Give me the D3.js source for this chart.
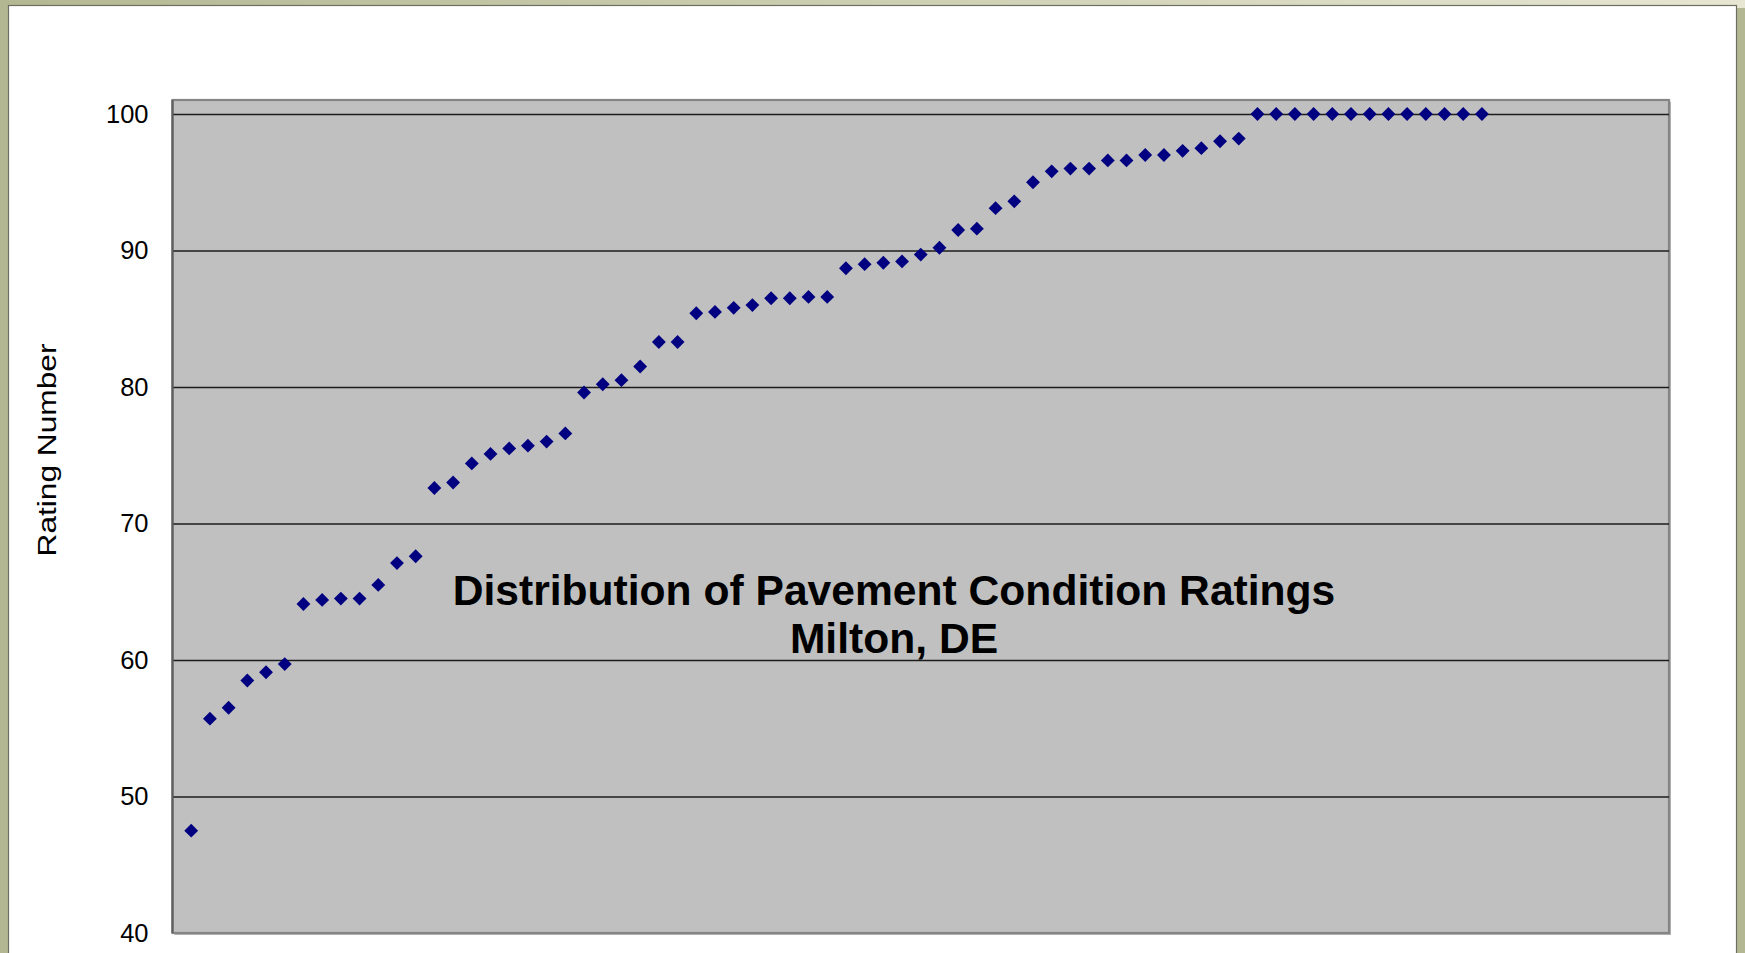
<!DOCTYPE html>
<html>
<head>
<meta charset="utf-8">
<script src="https://cdn.jsdelivr.net/npm/d3@7"></script>
<style>
html, body { margin: 0; padding: 0; overflow: hidden; background: #ffffff; }
svg { display: block; }
</style>
</head>
<body>
<script>
// ---------------- data ----------------
const ratings = [
  47.5, 55.7, 56.5, 58.5, 59.1, 59.7, 64.1, 64.4, 64.5, 64.5,
  65.5, 67.1, 67.6, 72.6, 73.0, 74.4, 75.1, 75.5, 75.7, 76.0,
  76.6, 79.6, 80.2, 80.5, 81.5, 83.3, 83.3, 85.4, 85.5, 85.8,
  86.0, 86.5, 86.5, 86.6, 86.6, 88.7, 89.0, 89.1, 89.2, 89.7,
  90.2, 91.5, 91.6, 93.1, 93.6, 95.0, 95.8, 96.0, 96.0, 96.6,
  96.6, 97.0, 97.0, 97.3, 97.5, 98.0, 98.2, 100, 100, 100,
  100, 100, 100, 100, 100, 100, 100, 100, 100, 100
];
const xDomain = [0, 80];
const yDomain = [40, 100];
const yTicks = [40, 50, 60, 70, 80, 90, 100];
const titleLines = ["Distribution of Pavement Condition Ratings", "Milton, DE"];
const yAxisTitle = "Rating Number";

// ---------------- layout ----------------
const W = 1745, H = 953;
const plot = { left: 172.5, right: 1669, top: 100, bottom: 933, yTopValuePx: 114 };

const svg = d3.select("body").append("svg")
  .attr("width", W).attr("height", H)
  .attr("font-family", "'Liberation Sans', Arial, sans-serif");

const defs = svg.append("defs");
const grad = defs.append("linearGradient").attr("id", "topgrad")
  .attr("x1", "0").attr("x2", "1").attr("y1", "0").attr("y2", "0");
grad.append("stop").attr("offset", "0").attr("stop-color", "#b4b892");
grad.append("stop").attr("offset", "1").attr("stop-color", "#e6e6d2");

// outer frame (olive) + top gradient strip
svg.append("rect").attr("x", 0).attr("y", 0).attr("width", W).attr("height", H).attr("fill", "#b3b892");
svg.append("rect").attr("x", 0).attr("y", 0).attr("width", W).attr("height", 8).attr("fill", "url(#topgrad)");
// white chart area
svg.append("rect").attr("x", 8.5).attr("y", 5.5).attr("width", 1728).attr("height", 980)
  .attr("fill", "#ffffff").attr("stroke", "#6e6e60").attr("stroke-width", 1.2);

// scales
const x = d3.scaleLinear().domain(xDomain).range([plot.left, plot.right]);
const y = d3.scaleLinear().domain(yDomain).range([plot.bottom, plot.yTopValuePx]);

// plot area shadow and background
svg.append("rect")
  .attr("x", plot.left + 2).attr("y", plot.top + 2)
  .attr("width", plot.right - plot.left).attr("height", plot.bottom - plot.top)
  .attr("fill", "#b4b4b4");
svg.append("rect")
  .attr("x", plot.left).attr("y", plot.top)
  .attr("width", plot.right - plot.left).attr("height", plot.bottom - plot.top)
  .attr("fill", "#c0c0c0").attr("stroke", "#858585").attr("stroke-width", 2.2);

// gridlines
const grid = svg.append("g")
  .attr("transform", `translate(${plot.left},0)`)
  .call(d3.axisLeft(y).tickValues(yTicks.filter(v => v > yDomain[0]))
    .tickSize(-(plot.right - plot.left)).tickFormat(""));
grid.select(".domain").remove();
grid.selectAll(".tick line").attr("stroke", "#1c1c1c").attr("stroke-width", 1.3);

// left axis line
svg.append("line")
  .attr("x1", plot.left).attr("x2", plot.left)
  .attr("y1", plot.top).attr("y2", plot.bottom)
  .attr("stroke", "#606060").attr("stroke-width", 2.2);

// y tick labels
const yAxis = svg.append("g")
  .attr("transform", `translate(${plot.left},0)`)
  .call(d3.axisLeft(y).tickValues(yTicks).tickSize(0).tickPadding(24).tickFormat(d3.format("d")));
yAxis.select(".domain").remove();
yAxis.selectAll("text")
  .attr("font-family", "'Liberation Sans', Arial, sans-serif")
  .attr("font-size", 25.5).attr("fill", "#000");

// y axis title
svg.append("text")
  .attr("transform", `translate(56, 450) rotate(-90)`)
  .attr("text-anchor", "middle")
  .attr("font-size", 26.5)
  .attr("textLength", 213).attr("lengthAdjust", "spacingAndGlyphs")
  .attr("fill", "#000")
  .text(yAxisTitle);

// points (square diamonds)
const diamond = {
  draw(ctx, size) {
    const r = Math.sqrt(size / 2);
    ctx.moveTo(0, -r); ctx.lineTo(r, 0); ctx.lineTo(0, r); ctx.lineTo(-r, 0); ctx.closePath();
  }
};
svg.append("g").selectAll("path")
  .data(ratings.map((v, i) => ({ idx: i + 1, v })))
  .join("path")
  .attr("transform", d => `translate(${x(d.idx)},${y(d.v)})`)
  .attr("d", d3.symbol().type(diamond).size(96))
  .attr("fill", "#000080");

// title inside plot
const title = svg.append("text")
  .attr("text-anchor", "middle")
  .attr("font-weight", "bold")
  .attr("font-size", 42.6)
  .attr("fill", "#000");
title.selectAll("tspan").data(titleLines).join("tspan")
  .attr("x", 894)
  .attr("y", (d, i) => 605 + i * 48)
  .text(d => d);
</script>
</body>
</html>
